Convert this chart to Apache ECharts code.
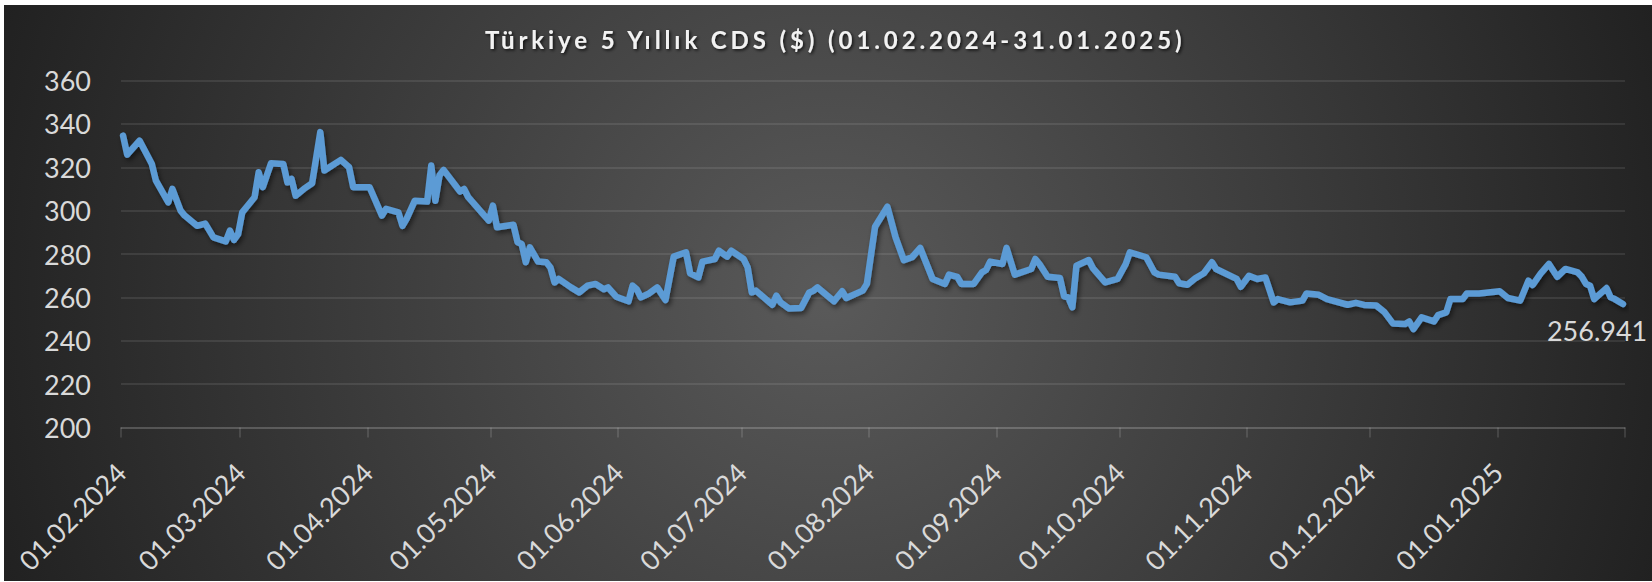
<!DOCTYPE html>
<html>
<head>
<meta charset="utf-8">
<script src="https://cdn.jsdelivr.net/npm/echarts@6.0.0/dist/echarts.min.js"></script>
<style>
html, body { margin: 0; padding: 0; background: #ffffff; }
#bg { position: absolute; left: 4px; top: 5px; right: 0; bottom: 1px;
      background: radial-gradient(circle farthest-corner at 50% 50%, #5a5a5a 0%, #212121 100%); }
#chart { position: absolute; left: 0; top: 0; width: 1652px; height: 582px; }
</style>
</head>
<body>
<div id="bg"></div>
<div id="chart"></div>
<script>
const titleText = 'Türkiye 5 Yıllık CDS ($) (01.02.2024-31.01.2025)';

const dates = [
  '2024-02-01','2024-02-02','2024-02-05','2024-02-08','2024-02-09','2024-02-12','2024-02-13','2024-02-15','2024-02-16','2024-02-19',
  '2024-02-21','2024-02-23','2024-02-26','2024-02-27','2024-02-28','2024-02-29',
  '2024-03-01','2024-03-04','2024-03-05','2024-03-06','2024-03-08','2024-03-11','2024-03-12','2024-03-13','2024-03-14','2024-03-16',
  '2024-03-18','2024-03-20','2024-03-21','2024-03-25','2024-03-27','2024-03-28',
  '2024-04-01','2024-04-04','2024-04-05','2024-04-08','2024-04-09','2024-04-10','2024-04-12','2024-04-15','2024-04-16','2024-04-17',
  '2024-04-18','2024-04-19','2024-04-23','2024-04-24','2024-04-25','2024-04-30',
  '2024-05-01','2024-05-02','2024-05-06','2024-05-07','2024-05-08','2024-05-09','2024-05-10','2024-05-12','2024-05-14','2024-05-15',
  '2024-05-16','2024-05-17','2024-05-20','2024-05-22','2024-05-24','2024-05-26','2024-05-28','2024-05-29','2024-05-31',
  '2024-06-03','2024-06-04','2024-06-05','2024-06-06','2024-06-08','2024-06-10','2024-06-12','2024-06-14','2024-06-17','2024-06-18',
  '2024-06-20','2024-06-21','2024-06-24','2024-06-25','2024-06-27','2024-06-28',
  '2024-07-01','2024-07-02','2024-07-03','2024-07-04','2024-07-08','2024-07-09','2024-07-10','2024-07-12','2024-07-15','2024-07-17',
  '2024-07-18','2024-07-19','2024-07-23','2024-07-25','2024-07-26','2024-07-30','2024-07-31',
  '2024-08-02','2024-08-05','2024-08-07','2024-08-09','2024-08-11','2024-08-13','2024-08-16','2024-08-19','2024-08-20','2024-08-22',
  '2024-08-23','2024-08-26','2024-08-28','2024-08-29','2024-08-30',
  '2024-09-02','2024-09-03','2024-09-05','2024-09-09','2024-09-10','2024-09-11','2024-09-13','2024-09-16','2024-09-17','2024-09-18',
  '2024-09-19','2024-09-20','2024-09-23','2024-09-24','2024-09-27','2024-09-30',
  '2024-10-02','2024-10-03','2024-10-07','2024-10-09','2024-10-10','2024-10-14','2024-10-15','2024-10-17','2024-10-19','2024-10-21',
  '2024-10-23','2024-10-24','2024-10-29','2024-10-30',
  '2024-11-01','2024-11-03','2024-11-05','2024-11-07','2024-11-08','2024-11-11','2024-11-14','2024-11-15','2024-11-18','2024-11-20',
  '2024-11-25','2024-11-27','2024-11-29',
  '2024-12-02','2024-12-04','2024-12-06','2024-12-09','2024-12-10','2024-12-11','2024-12-13','2024-12-16','2024-12-17','2024-12-19',
  '2024-12-20','2024-12-23','2024-12-24','2024-12-27',
  '2025-01-01','2025-01-03','2025-01-06','2025-01-08','2025-01-09','2025-01-11','2025-01-13','2025-01-15','2025-01-17','2025-01-20',
  '2025-01-21','2025-01-22','2025-01-23','2025-01-24','2025-01-27','2025-01-28','2025-01-29','2025-01-31'
];

const values = [
  334.6, 325.8, 332.3, 321.5, 313.8, 303.8, 310.0, 300.0, 297.7, 293.0,
  294.0, 287.7, 285.8, 290.8, 286.5, 289.2,
  299.2, 306.2, 317.7, 310.8, 321.8, 321.5, 313.0, 314.6, 306.9, 310.0,
  312.6, 336.2, 318.5, 323.4, 320.0, 310.8,
  310.8, 297.7, 300.8, 299.2, 293.0, 296.2, 304.6, 304.2, 320.8, 304.6,
  316.2, 318.8, 308.8, 310.0, 306.2, 295.4,
  302.3, 292.3, 293.5, 285.4, 284.6, 276.2, 283.1, 276.5, 276.2, 273.8,
  266.9, 268.5, 264.6, 262.3, 265.4, 266.2, 263.8, 264.6, 260.3,
  258.2, 265.4, 263.8, 260.0, 261.8, 264.6, 258.8, 278.8, 280.8, 271.1,
  269.2, 276.5, 277.7, 281.5, 278.8, 281.5,
  277.7, 273.8, 262.3, 263.1, 256.6, 260.8, 257.7, 254.9, 255.1, 262.3,
  263.1, 264.6, 258.2, 262.8, 259.7, 263.1, 266.2,
  292.6, 301.8, 287.7, 277.2, 278.5, 282.8, 268.5, 266.2, 270.5, 269.5,
  266.2, 266.2, 271.5, 272.6, 276.5,
  275.4, 282.8, 270.5, 273.1, 277.7, 275.4, 269.5, 268.9, 260.5, 260.0,
  255.4, 274.6, 277.2, 273.5, 266.9, 268.5,
  275.4, 280.8, 278.5, 271.5, 270.5, 269.5, 266.5, 265.8, 268.9, 271.1,
  276.2, 273.1, 268.5, 264.9,
  270.0, 268.5, 269.2, 257.7, 259.2, 257.7, 258.5, 261.8, 261.2, 259.2,
  256.6, 257.5, 256.5,
  256.2, 253.1, 248.0, 247.7, 248.9, 245.4, 250.8, 248.9, 251.8, 253.1,
  259.2, 259.2, 261.8, 261.8,
  262.8, 259.7, 258.5, 267.7, 265.7, 271.1, 275.4, 269.5, 273.1, 271.5,
  269.5, 266.2, 265.4, 259.2, 264.3, 260.0, 259.2, 256.941
];

const monthTicks = [
  '2024-02-01','2024-03-01','2024-04-01','2024-05-01','2024-06-01','2024-07-01',
  '2024-08-01','2024-09-01','2024-10-01','2024-11-01','2024-12-01','2025-01-01','2025-02-01'
];
const monthLabels = monthTicks.slice(0, 12);

const yMin = 200, yMax = 360, yStep = 20;

const toTime = d => +echarts.time.parse(d);
const seriesData = dates.map((d, i) => [toTime(d + 'T12:00:00'), values[i]]);

const gridColor = 'rgba(255,255,255,0.12)';
const axisColor = 'rgba(255,255,255,0.16)';
const labelColor = '#d9d9d9';
const fontFamily = 'Lato, "Noto Sans", sans-serif';

const chart = echarts.init(document.getElementById('chart'), null, { renderer: 'svg', width: 1652, height: 582 });

chart.setOption({
  animation: false,
  backgroundColor: 'transparent',
  title: {
    text: titleText,
    left: 485,
    top: 27.5,
    padding: 0,
    textStyle: {
      color: '#f2f2f2',
      fontFamily: fontFamily,
      fontWeight: 'bold',
      fontSize: 24,
      textShadowColor: 'rgba(0,0,0,0.75)',
      textShadowBlur: 3,
      textShadowOffsetX: 1.5,
      textShadowOffsetY: 1.5
    }
  },
  grid: { left: 121, right: 27, top: 80.5, bottom: 154.5, containLabel: false, outerBoundsMode: 'none' },
  xAxis: {
    type: 'value',
    min: toTime(monthTicks[0]),
    max: toTime(monthTicks[monthTicks.length - 1]),
    axisLine: { show: true, lineStyle: { color: axisColor, width: 1.5 } },
    axisTick: { show: true, length: 10, inside: false, customValues: monthTicks.map(toTime),
                lineStyle: { color: axisColor, width: 1.5 } },
    axisLabel: {
      customValues: monthLabels.map(toTime),
      rotate: 45,
      margin: 40,
      color: labelColor,
      fontFamily: fontFamily,
      fontSize: 27,
      hideOverlap: false,
      showMinLabel: true,
      showMaxLabel: true,
      formatter: v => echarts.time.format(v, '{dd}.{MM}.{yyyy}', false)
    },
    splitLine: { show: false },
    minorTick: { show: false }
  },
  yAxis: {
    type: 'value',
    min: yMin,
    max: yMax,
    interval: yStep,
    axisLine: { show: false },
    axisTick: { show: false },
    axisLabel: { color: labelColor, fontFamily: fontFamily, fontSize: 27, margin: 30 },
    splitLine: { show: true, lineStyle: { color: gridColor, width: 1.5 } }
  },
  series: [{
    type: 'line',
    data: seriesData,
    showSymbol: false,
    symbol: 'none',
    smooth: false,
    lineStyle: {
      color: '#5b9bd5',
      width: 6.5,
      join: 'round',
      cap: 'round',
      shadowColor: 'rgba(0,0,0,0.5)',
      shadowBlur: 5,
      shadowOffsetX: 2,
      shadowOffsetY: 3
    },
    itemStyle: { color: '#5b9bd5' },
    endLabel: {
      show: true,
      formatter: p => String(p.value[1]),
      color: labelColor,
      fontFamily: fontFamily,
      fontSize: 27,
      distance: 0,
      offset: [-76, 26]
    },
    emphasis: { disabled: true }
  }]
});

function fixTitle() {
  document.querySelectorAll('#chart text').forEach(t => {
    if (t.textContent === titleText) {
      t.setAttribute('letter-spacing', '3.9');
      t.style.letterSpacing = '3.9px';
    }
  });
}
fixTitle();
chart.on('finished', fixTitle);
</script>
</body>
</html>
